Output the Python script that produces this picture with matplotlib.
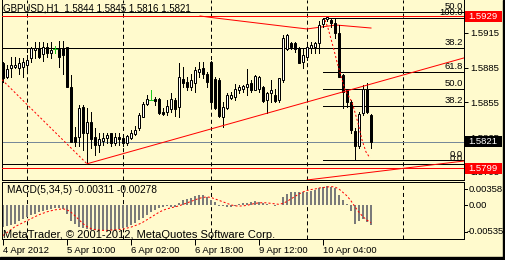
import matplotlib
matplotlib.use("Agg")
import matplotlib.pyplot as plt
from matplotlib.patches import Rectangle
from matplotlib.transforms import blended_transform_factory as blend

plt.rcParams['font.family'] = ['Liberation Sans', 'DejaVu Sans']
plt.rcParams['lines.scale_dashes'] = False

W, H = 506, 260
BG = "#FFFACD"

# GBPUSD H1, bars from 4 Apr 18:00 to 10 Apr 16:00
opens = [
    1.5889, 1.5877, 1.5885, 1.5886, 1.5885, 1.5886, 1.5887, 1.5893, 1.5900, 1.5902,
    1.5897, 1.5903, 1.5898, 1.5901, 1.5901, 1.5902, 1.5903, 1.5868, 1.5825, 1.5825,
    1.5851, 1.5829, 1.5838, 1.5825, 1.5818, 1.5822, 1.5824, 1.5829, 1.5820, 1.5825,
    1.5824, 1.5820, 1.5824, 1.5828, 1.5833, 1.5842, 1.5854, 1.5857, 1.5858, 1.5858,
    1.5847, 1.5847, 1.5849, 1.5857, 1.5851, 1.5875, 1.5873, 1.5868, 1.5872, 1.5881,
    1.5885, 1.5880, 1.5890, 1.5875, 1.5874, 1.5842, 1.5850, 1.5859, 1.5860, 1.5866,
    1.5867, 1.5868, 1.5872, 1.5866, 1.5867, 1.5868, 1.5857, 1.5863, 1.5861, 1.5857,
    1.5874, 1.5901, 1.5906, 1.5906, 1.5902, 1.5890, 1.5894, 1.5902, 1.5903, 1.5906,
    1.5923, 1.5927, 1.5926, 1.5924, 1.5915, 1.5879, 1.5866, 1.5855, 1.5830, 1.5817,
    1.5846, 1.5867, 1.5844]
highs = [
    1.5890, 1.5887, 1.5894, 1.5894, 1.5893, 1.5893, 1.5896, 1.5903, 1.5907, 1.5907,
    1.5907, 1.5906, 1.5907, 1.5904, 1.5908, 1.5908, 1.5903, 1.5879, 1.5834, 1.5853,
    1.5853, 1.5850, 1.5847, 1.5833, 1.5829, 1.5829, 1.5829, 1.5829, 1.5829, 1.5829,
    1.5827, 1.5827, 1.5831, 1.5835, 1.5846, 1.5855, 1.5861, 1.5866, 1.5860, 1.5859,
    1.5850, 1.5857, 1.5863, 1.5859, 1.5889, 1.5886, 1.5877, 1.5880, 1.5886, 1.5890,
    1.5890, 1.5881, 1.5891, 1.5877, 1.5876, 1.5855, 1.5863, 1.5864, 1.5871, 1.5870,
    1.5870, 1.5884, 1.5874, 1.5879, 1.5878, 1.5869, 1.5864, 1.5874, 1.5867, 1.5876,
    1.5913, 1.5914, 1.5907, 1.5907, 1.5903, 1.5902, 1.5906, 1.5907, 1.5907, 1.5925,
    1.5928, 1.5929, 1.5928, 1.5927, 1.5922, 1.5880, 1.5866, 1.5857, 1.5833, 1.5847,
    1.5870, 1.5872, 1.5845]
lows = [
    1.5873, 1.5876, 1.5877, 1.5885, 1.5880, 1.5877, 1.5883, 1.5890, 1.5893, 1.5893,
    1.5891, 1.5894, 1.5893, 1.5898, 1.5886, 1.5880, 1.5868, 1.5821, 1.5817, 1.5817,
    1.5814, 1.5802, 1.5816, 1.5810, 1.5812, 1.5818, 1.5820, 1.5817, 1.5818, 1.5818,
    1.5817, 1.5818, 1.5823, 1.5827, 1.5831, 1.5842, 1.5853, 1.5857, 1.5853, 1.5845,
    1.5844, 1.5844, 1.5847, 1.5843, 1.5842, 1.5868, 1.5866, 1.5866, 1.5864, 1.5877,
    1.5876, 1.5868, 1.5853, 1.5849, 1.5842, 1.5834, 1.5849, 1.5858, 1.5857, 1.5863,
    1.5864, 1.5861, 1.5864, 1.5866, 1.5864, 1.5855, 1.5846, 1.5855, 1.5855, 1.5855,
    1.5873, 1.5900, 1.5901, 1.5899, 1.5889, 1.5885, 1.5892, 1.5898, 1.5898, 1.5898,
    1.5920, 1.5925, 1.5920, 1.5911, 1.5877, 1.5850, 1.5851, 1.5829, 1.5805, 1.5816,
    1.5844, 1.5846, 1.5816]
closes = [
    1.5876, 1.5884, 1.5887, 1.5887, 1.5889, 1.5890, 1.5892, 1.5902, 1.5902, 1.5894,
    1.5903, 1.5898, 1.5900, 1.5901, 1.5894, 1.5896, 1.5868, 1.5821, 1.5821, 1.5850,
    1.5829, 1.5838, 1.5823, 1.5818, 1.5823, 1.5824, 1.5827, 1.5820, 1.5825, 1.5823,
    1.5820, 1.5826, 1.5829, 1.5831, 1.5844, 1.5854, 1.5858, 1.5857, 1.5856, 1.5846,
    1.5845, 1.5852, 1.5858, 1.5849, 1.5877, 1.5872, 1.5868, 1.5874, 1.5883, 1.5884,
    1.5880, 1.5873, 1.5855, 1.5850, 1.5843, 1.5851, 1.5861, 1.5861, 1.5867, 1.5868,
    1.5869, 1.5871, 1.5866, 1.5878, 1.5877, 1.5856, 1.5863, 1.5866, 1.5856, 1.5876,
    1.5911, 1.5913, 1.5903, 1.5901, 1.5889, 1.5896, 1.5903, 1.5905, 1.5906, 1.5922,
    1.5927, 1.5929, 1.5924, 1.5915, 1.5877, 1.5864, 1.5855, 1.5831, 1.5817, 1.5845,
    1.5867, 1.5847, 1.5821]

macd_hist = [
    -0.00349, -0.00333, -0.00318, -0.00295, -0.00256, -0.00214, -0.00194, -0.00163, -0.00140, -0.00109,
    -0.00090, -0.00074, -0.00059, -0.00048, -0.00048, -0.00059, -0.00140, -0.00256, -0.00307, -0.00349,
    -0.00369, -0.00384, -0.00400, -0.00400, -0.00400, -0.00400, -0.00400, -0.00398, -0.00389, -0.00384,
    -0.00369, -0.00349, -0.00318, -0.00281, -0.00245, -0.00203, -0.00152, -0.00110, -0.00074, -0.00048,
    -0.00033, -0.00023, -0.00031, -0.00031, 0.00031, 0.00078, 0.00093, 0.00109, 0.00132, 0.00155,
    0.00147, 0.00116, 0.00078, 0.00047, -0.00023, -0.00023, -0.00031, -0.00031, -0.00016, 0.00016,
    0.00023, 0.00031, 0.00047, 0.00054, 0.00039, 0.00031, 0.00016, 0.00005, -0.00016, 0.00002,
    0.00116, 0.00171, 0.00209, 0.00202, 0.00209, 0.00209, 0.00209, 0.00217, 0.00233, 0.00264,
    0.00287, 0.00295, 0.00287, 0.00264, 0.00147, 0.00078, 0.00016, -0.00093, -0.00295, -0.00248,
    -0.00225, -0.00264, -0.00311]
macd_signal = [
    -0.00481, -0.00434, -0.00388, -0.00341, -0.00310, -0.00279, -0.00248, -0.00217, -0.00186, -0.00155,
    -0.00132, -0.00109, -0.00093, -0.00078, -0.00070, -0.00062, -0.00078, -0.00116, -0.00171, -0.00233,
    -0.00295, -0.00341, -0.00372, -0.00388, -0.00395, -0.00400, -0.00400, -0.00395, -0.00391, -0.00388,
    -0.00380, -0.00364, -0.00349, -0.00326, -0.00302, -0.00271, -0.00233, -0.00194, -0.00155, -0.00116,
    -0.00085, -0.00062, -0.00047, -0.00031, -0.00016, 0.00008, 0.00031, 0.00054, 0.00078, 0.00101,
    0.00116, 0.00124, 0.00116, 0.00093, 0.00070, 0.00047, 0.00023, 0.00000, -0.00016, -0.00019,
    -0.00016, -0.00008, 0.00008, 0.00023, 0.00031, 0.00034, 0.00031, 0.00023, 0.00016, 0.00008,
    0.00023, 0.00054, 0.00093, 0.00132, 0.00171, 0.00202, 0.00225, 0.00240, 0.00248, 0.00264,
    0.00271, 0.00279, 0.00287, 0.00279, 0.00248, 0.00194, 0.00140, 0.00062, -0.00031, -0.00116,
    -0.00186, -0.00240, -0.00278]

tick_bars = [0, 16, 32, 48, 64, 80]
tick_labels = ["4 Apr 2012", "5 Apr 10:00", "6 Apr 02:00", "6 Apr 18:00", "9 Apr 12:00", "10 Apr 04:00"]
day_bars = [6, 30, 52, 76, 100]
price_ticks = [1.5795, 1.5825, 1.5855, 1.5885, 1.5915]

# drawn objects
fib1 = (1.5802, 1.6064)          # 0.0 -> 100.0, from far left
fib2 = (1.5805, 1.5928)          # 0.0 -> 100.0, from bar 80
fib2_start = 80
fib_levels = [0.0, 38.2, 50.0, 61.8, 100.0]
hline_top, hline_bottom = 1.59294, 1.5798
bid = 1.5821
trend_up = ([21, 55], [1.5802, 1.5835])
trend_low = ([76, 115.25], [1.5788, 1.58044])
top_curve = ([49.25, 53, 59.25, 65.5, 71.75, 76, 83.25, 92],
             [1.59297, 1.5928, 1.59254, 1.59228, 1.59202, 1.59185, 1.59219, 1.59193])
zz_left = ([-3, 21], [1.5884, 1.5802])
zz_right = ([80.5, 81.25, 82.75, 83.5, 85.5, 87.25, 88.75, 89.75, 90.75, 91.75],
            [1.59262, 1.59193, 1.59003, 1.58899, 1.58658, 1.58554, 1.58372, 1.58226, 1.58122, 1.5807])

px = 0.72  # one pixel in points
k = 0.0000864  # one pixel in price


def fx(x):
    return x / W


def fy(y):
    return 1 - y / H


fig = plt.figure(figsize=(W / 100, H / 100), dpi=100, facecolor=BG)
ax = fig.add_axes([fx(2), fy(180), (464 - 2) / W, 180 / H], facecolor=BG)
mx = fig.add_axes([fx(2), fy(239), (464 - 2) / W, 57 / H], facecolor=BG)

for a in (ax, mx):
    a.set_xlim(-0.25, 115.25)
    for s in a.spines.values():
        s.set_linewidth(px)
    for b in day_bars:
        a.axvline(b, color="black", lw=px, dashes=(2.9, 2.2), zorder=1)
ax.spines["top"].set_visible(False)
ax.set_ylim(1.578799, 1.594351)
mx.set_ylim(-0.00535, 0.00358)

# price scale
ax.set_xticks([])
ax.yaxis.tick_right()
ax.set_yticks(price_ticks)
ax.set_yticklabels(["%.4f" % p for p in price_ticks])
ax.tick_params(axis="y", length=3, width=px, pad=1.5, labelsize=6.8)

# fibonacci lines
tr = blend(ax.transAxes, ax.transData)
for lo, hi, start in [(fib1[0], fib1[1], -1), (fib2[0], fib2[1], fib2_start)]:
    for lv in fib_levels:
        p = lo + (hi - lo) * lv / 100
        ax.plot([start, 116], [p, p], color="black", lw=px, zorder=2)
        if ax.get_ylim()[0] < p < ax.get_ylim()[1]:
            ax.text(0.998, p + k, "%.1f" % lv, transform=tr, ha="right", va="bottom",
                    fontsize=6.8, zorder=6)

ax.axhline(hline_top, color="red", lw=px, zorder=3)
ax.axhline(hline_bottom, color="red", lw=px, zorder=3)
ax.axhline(bid, color="#778899", lw=px, zorder=2)

# trend lines
x0, x1 = trend_up[0]
y0, y1 = trend_up[1]
ax.plot([x0, 116], [y0, y0 + (y1 - y0) / (x1 - x0) * (116 - x0)], color="red", lw=px, zorder=5)
ax.plot(trend_low[0], trend_low[1], color="red", lw=px, zorder=5)
ax.plot(top_curve[0], top_curve[1], color="red", lw=px, zorder=3)
ax.plot(zz_left[0], zz_left[1], color="red", lw=px, dashes=(1.5, 1.5), zorder=5)
ax.plot(zz_right[0], zz_right[1], color="red", lw=px, dashes=(1.5, 1.5), zorder=5)

# candles
for i, (o, h, l, c) in enumerate(zip(opens, highs, lows, closes)):
    if o == c:
        ax.plot([i, i], [l, h], color="#22c922", lw=px, zorder=4)
        ax.plot([i - 0.4, i + 0.4], [o, o], color="#22c922", lw=px, zorder=4)
        continue
    ax.plot([i, i], [l, h], color="black", lw=px, zorder=4)
    ax.add_patch(Rectangle((i - 0.25, min(o, c)), 0.5, abs(c - o),
                           facecolor="white" if c > o else "black",
                           edgecolor="black", lw=px, zorder=4))

# price labels
trf = blend(fig.transFigure, ax.transData)
for p, txt, col in [(hline_top, "1.5929", "red"), (bid, "1.5821", "black"), (hline_bottom, "1.5799", "red")]:
    ax.add_patch(Rectangle((fx(465), p - 5.3 * k), (502 - 465) / W, 10.6 * k, transform=trf,
                           facecolor=col, edgecolor="none", clip_on=False, zorder=20))
    ax.text(fx(468), p, txt, transform=trf, color="white", ha="left", va="center",
            fontsize=6.8, clip_on=False, zorder=21)

fig.text(fx(3), fy(8.5), "GBPUSD,H1  1.5844 1.5845 1.5816 1.5821", fontsize=7, va="center",
         ha="left", zorder=30)

# MACD panel
mx.bar(range(len(macd_hist)), macd_hist, width=0.7, color="#7a7a7a", zorder=2)
mx.plot(range(len(macd_signal)), macd_signal, color="red", lw=px, dashes=(1.5, 1.5), zorder=3)
mx.set_yticks([])
mx.set_xticks(tick_bars)
mx.set_xticklabels(tick_labels, ha="left")
mx.tick_params(axis="x", length=4, width=px, pad=1, labelsize=6.8)
mx.text(fx(7) - fx(2), 0.86, "MACD(5,34,5) -0.00311 -0.00278", transform=mx.transAxes,
        fontsize=7.3, va="center", ha="left", zorder=10)
mx.text(0.002, 0.07, "MetaTrader, \u00a9 2001-2012, MetaQuotes Software Corp.", transform=mx.transAxes,
        fontsize=8, va="center", ha="left", zorder=10)
for y, txt, xx in [(189, "0.00358", 469), (205, "0.00", 469), (232, "-0.00535", 467)]:
    fig.text(fx(xx), fy(y), txt, fontsize=6.8, va="center", ha="left")
    fig.add_artist(plt.Line2D([fx(464), fx(467)], [fy(y), fy(y)], color="black", lw=px))

# window edge
fig.add_artist(Rectangle((0, 0), 1, 3 / H, transform=fig.transFigure, color="black"))
fig.add_artist(Rectangle((fx(503), 0), 3 / W, 1, transform=fig.transFigure, color="black"))

fig.savefig("out.png", dpi=100, facecolor=BG)
